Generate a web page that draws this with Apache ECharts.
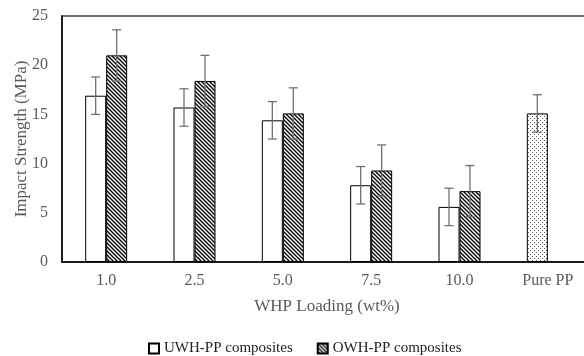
<!DOCTYPE html>
<html><head><meta charset="utf-8">
<script src="https://cdn.jsdelivr.net/npm/echarts@6/dist/echarts.min.js"></script>
<style>html,body{margin:0;padding:0;background:#fff}#c{width:584px;height:356px}</style>
</head><body><div id="c"></div>
<script>
const categories = ['1.0', '2.5', '5.0', '7.5', '10.0', 'Pure PP'];
const uwh = [16.9, 15.7, 14.4, 7.8, 5.6, 15.1];
const owh = [21.0, 18.4, 15.1, 9.3, 7.2, null];
const uwhErr = [1.9, 1.9, 1.9, 1.9, 1.9, 1.9];
const owhErr = [2.6, 2.6, 2.6, 2.6, 2.6, null];
const yTicks = [0, 5, 10, 15, 20, 25];

function hatch() {
  const c = document.createElement('canvas'); c.width = 4; c.height = 4;
  const g = c.getContext('2d');
  g.fillStyle = '#fff'; g.fillRect(0, 0, 4, 4);
  g.strokeStyle = '#000'; g.lineWidth = 1.3;
  g.beginPath(); g.moveTo(-1, -1); g.lineTo(5, 5); g.stroke();
  g.beginPath(); g.moveTo(-1, 3); g.lineTo(1, 5); g.stroke();
  g.beginPath(); g.moveTo(3, -1); g.lineTo(5, 1); g.stroke();
  return c;
}
function dots() {
  const c = document.createElement('canvas'); c.width = 4; c.height = 4;
  const g = c.getContext('2d');
  g.fillStyle = '#fff'; g.fillRect(0, 0, 4, 4);
  g.fillStyle = '#555';
  g.fillRect(0, 0, 1, 1); g.fillRect(2, 2, 1, 1);
  return c;
}
const BW = 21;
const font = '"Liberation Serif", "Times New Roman", serif';

function errSeries(vals, errs, offset) {
  return {
    type: 'custom', silent: true, z: 5,
    data: vals.map((v, i) => v == null ? null : [i, v, errs[i]]).filter(d => d),
    encode: { x: 0, y: 1 },
    renderItem: function (params, api) {
      const i = api.value(0), v = api.value(1), e = api.value(2);
      const top = api.coord([i, v + e]);
      const bot = api.coord([i, v - e]);
      const x = top[0] + offset;
      const w = 4.5;
      const st = { stroke: '#707070', lineWidth: 1.3 };
      return { type: 'group', children: [
        { type: 'line', shape: { x1: x, y1: top[1], x2: x, y2: bot[1] }, style: st },
        { type: 'line', shape: { x1: x - w, y1: top[1], x2: x + w, y2: top[1] }, style: st },
        { type: 'line', shape: { x1: x - w, y1: bot[1], x2: x + w, y2: bot[1] }, style: st }
      ]};
    }
  };
}

const chart = echarts.init(document.getElementById('c'), null, { renderer: 'canvas' });
chart.setOption({
  animation: false,
  textStyle: { fontFamily: font },
  grid: { left: 62, top: 16, right: -8, bottom: 94, outerBoundsMode: 'none', containLabel: false,
          show: true, borderColor: '#404040', borderWidth: 1.5 },
  legend: {
    top: 336, left: 143, itemWidth: 10, itemHeight: 10, itemGap: 24, icon: 'rect',
    textStyle: { fontFamily: font, fontSize: 15, color: '#222' },
    data: ['UWH-PP composites', 'OWH-PP composites']
  },
  xAxis: {
    type: 'category', data: categories,
    axisLine: { lineStyle: { color: '#000', width: 1.5 } },
    axisTick: { show: false },
    axisLabel: { color: '#595959', fontSize: 16, fontFamily: font, margin: 11 },
    name: 'WHP Loading (wt%)', nameLocation: 'middle', nameGap: 36, nameMoveOverlap: false,
    nameTextStyle: { color: '#595959', fontSize: 17, fontFamily: font }
  },
  yAxis: {
    type: 'value', min: yTicks[0], max: yTicks[yTicks.length - 1], interval: 5,
    axisLine: { show: true, lineStyle: { color: '#000', width: 1.5 } },
    axisTick: { show: false },
    splitLine: { show: false },
    axisLabel: { color: '#595959', fontSize: 16, fontFamily: font, margin: 14 },
    name: 'Impact Strength (MPa)', nameLocation: 'middle', nameGap: 32, nameRotate: 90,
    nameMoveOverlap: false,
    nameTextStyle: { color: '#595959', fontSize: 17, fontFamily: font }
  },
  series: [
    {
      name: 'UWH-PP composites', type: 'bar', barWidth: BW, barGap: 0,
      itemStyle: { color: '#fff', borderColor: '#000', borderWidth: 1 },
      data: uwh.map((v, i) => i === categories.length - 1
        ? { value: v, itemStyle: { color: { image: dots(), repeat: 'repeat' }, borderColor: '#000', borderWidth: 1 } }
        : v)
    },
    {
      name: 'OWH-PP composites', type: 'bar', barWidth: BW, barGap: 0,
      itemStyle: { color: { image: hatch(), repeat: 'repeat' }, borderColor: '#000', borderWidth: 1 },
      data: owh.map(v => v == null ? '-' : v)
    },
    errSeries(uwh, uwhErr, -BW / 2),
    errSeries(owh, owhErr, BW / 2)
  ]
});
</script></body></html>
